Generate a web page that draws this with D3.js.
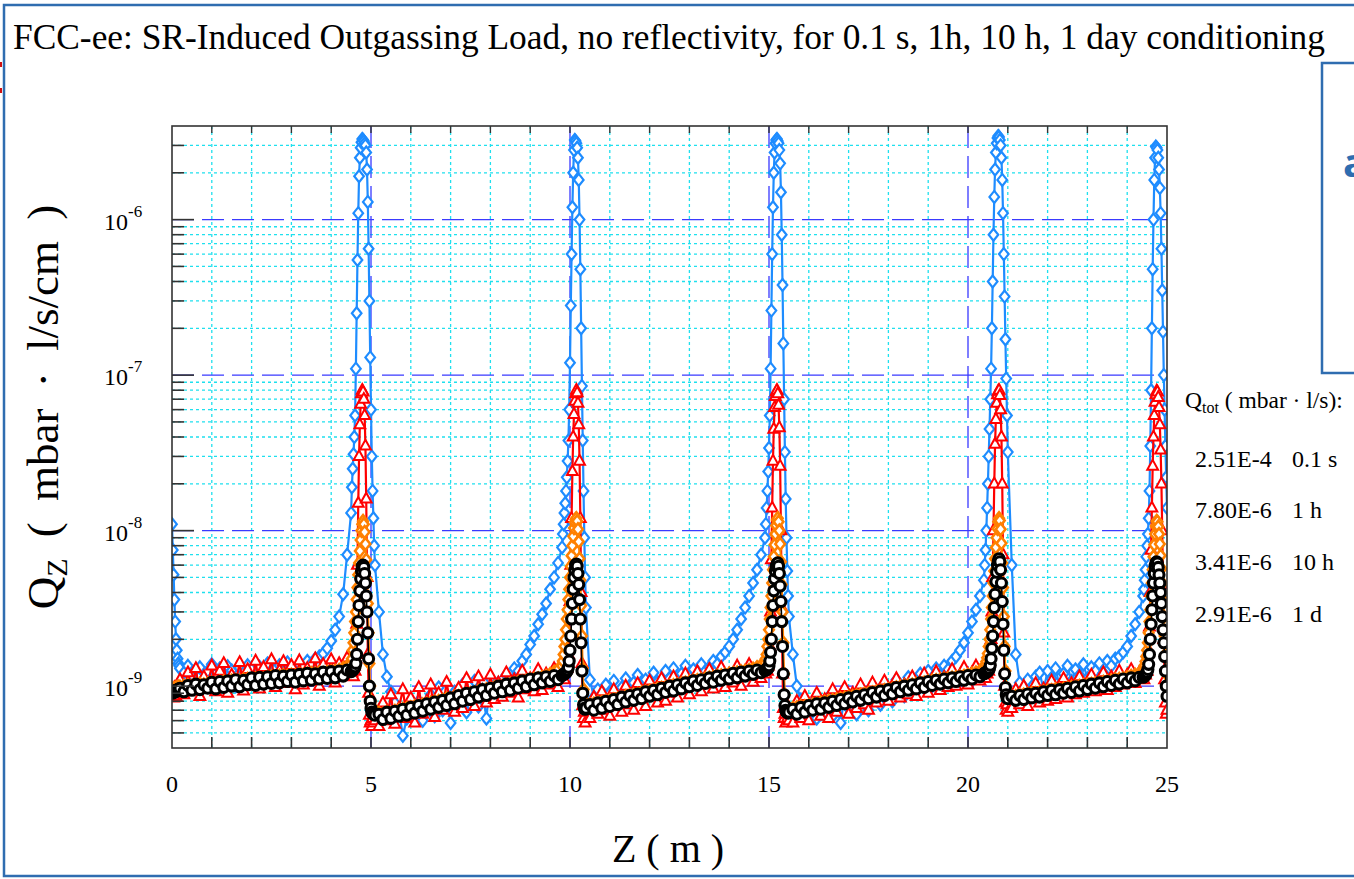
<!DOCTYPE html>
<html lang="en">
<head>
<meta charset="UTF-8">
<title>FCC-ee: SR-Induced Outgassing Load</title>
<script src="https://d3js.org/d3.v7.min.js"></script>
<style>
  body { margin: 0; background: #fff; }
  svg text { font-family: "Liberation Serif", "Times New Roman", serif; fill: #000; }
</style>
</head>
<body>
<div id="chart"></div>
<script>
// sampling positions along Z (m): [start, stop, step] - finer mesh around each SR fan
const zSegments = [
  [0.00, 0.18, 0.02], [0.2, 4.5, 0.1], [4.52, 5.10, 0.02],
  [5.2, 9.8, 0.1], [9.82, 10.40, 0.02], [10.5, 14.9, 0.1],
  [14.92, 15.50, 0.02], [15.6, 20.4, 0.1], [20.42, 21.00, 0.02],
  [21.1, 24.4, 0.1], [24.42, 25.00, 0.02]
];

// Q_Z, in units of 1e-9 mbar·l/s/cm, one sub-array per segment
const q01s = [
  [11.0, 7.5, 5.2, 3.6, 2.6, 2.0, 1.7, 1.5, 1.4, 1.35],
  [1.30, 1.22, 1.35, 1.18, 1.28, 1.32, 1.05, 1.25, 1.38, 1.20, 1.30, 1.15, 1.34, 1.26, 1.00, 1.31, 1.22, 1.36, 1.28, 1.12,
   1.33, 1.25, 1.40, 1.18, 1.30, 1.36, 1.24, 1.42, 1.30, 1.26, 1.38, 1.32, 1.45, 1.40, 1.50, 1.55, 1.62, 1.75, 1.95, 2.3,
   2.8, 3.9, 7.0, 13.0],
  [19, 25, 31, 40, 55, 110, 250, 550, 1100, 1900, 2500, 2900, 3150, 3300, 3250, 3200, 3100, 3000, 2700, 2100,
   1300, 650, 300, 130, 60, 30, 18, 12, 8, 6],
  [3.0, 1.6, 1.15, 0.92, 0.78, 0.70, 0.48, 0.62, 0.74, 0.66, 0.80, 0.60, 0.72, 0.88, 0.64, 0.98, 0.70, 0.84, 0.58, 0.92,
   0.76, 1.02, 0.68, 0.90, 1.08, 0.74, 0.95, 0.62, 1.12, 0.86, 1.05, 0.92, 1.18, 1.02, 1.30, 1.25, 1.45, 1.60, 1.85, 2.1,
   2.5, 2.9, 3.4, 4.2, 5.0, 6.2, 7.8],
  [9.5, 11, 13, 15, 18, 22, 28, 38, 60, 120, 280, 600, 1200, 2000, 2800, 3250, 3200, 3100, 2900, 2500,
   1800, 1000, 480, 200, 85, 38, 18, 9, 5, 3.2],
  [1.10, 0.85, 0.95, 0.80, 1.02, 0.90, 1.08, 0.86, 0.98, 1.12, 0.92, 1.05, 1.18, 0.95, 1.10, 1.00, 1.22, 1.06, 0.96, 1.25,
   1.12, 1.30, 1.02, 1.20, 1.35, 1.15, 1.28, 1.10, 1.38, 1.25, 1.32, 1.45, 1.38, 1.55, 1.65, 1.80, 2.0, 2.3, 2.7, 3.2,
   3.8, 4.6, 5.6, 7.0, 9.0],
  [11, 14, 18, 24, 34, 55, 110, 260, 600, 1200, 2000, 2700, 3100, 3250, 3300, 3200, 3100, 2800, 2300, 1500,
   800, 380, 160, 70, 32, 16, 9, 5.5, 3.8, 2.8],
  [1.6, 1.0, 0.82, 0.72, 0.66, 0.78, 0.62, 0.74, 0.68, 0.85, 0.64, 0.76, 0.58, 0.88, 0.72, 0.82, 0.66, 0.94, 0.78, 0.70,
   0.98, 0.84, 0.76, 1.04, 0.90, 0.80, 1.10, 0.96, 0.86, 1.14, 1.02, 0.92, 1.20, 1.08, 1.25, 1.00, 1.30, 1.18, 1.35, 1.28,
   1.45, 1.55, 1.70, 1.90, 2.2, 2.6, 3.1, 3.8, 4.8],
  [6, 7.5, 10, 14, 20, 30, 45, 70, 110, 200, 400, 800, 1400, 2100, 2700, 3100, 3350, 3450, 3400, 3250,
   3000, 2500, 1800, 1100, 600, 320, 170, 95, 55, 32],
  [6.0, 1.6, 1.05, 0.92, 1.10, 0.88, 1.15, 1.22, 0.95, 1.25, 1.12, 1.30, 1.00, 1.20, 1.35, 1.08, 1.28, 1.18, 1.38, 1.12,
   1.32, 1.25, 1.40, 1.22, 1.45, 1.35, 1.50, 1.55, 1.65, 1.80, 2.1, 2.5, 3.0, 3.8],
  [4.2, 4.8, 5.6, 6.8, 8.0, 9.5, 12, 18, 35, 80, 200, 480, 1000, 1800, 2500, 2950, 2900, 2800, 2500, 2100,
   1600, 1100, 650, 350, 190, 100, 60, 35, 22, 14]
];

const q1h = [
  [0.88, 0.95, 0.84, 0.98, 0.90, 0.86, 1.00, 0.92, 0.97, 0.89],
  [1.10, 0.88, 1.22, 0.95, 1.30, 0.86, 1.15, 1.02, 1.35, 0.92, 1.25, 1.40, 0.90, 1.18, 1.05, 1.42, 0.93, 1.28, 1.00, 1.45,
   0.96, 1.32, 1.12, 1.48, 0.98, 1.26, 1.44, 1.04, 1.36, 0.95, 1.46, 1.02, 1.30, 1.15, 1.50, 1.00, 1.38, 1.20, 1.48, 1.05,
   1.40, 1.18, 1.52, 1.25],
  [1.22, 1.30, 1.15, 1.35, 1.25, 1.5, 2.5, 6, 15, 30, 48, 65, 76, 80, 78, 70, 55, 35, 16, 5,
   1.6, 0.9, 0.65, 0.58, 0.60, 0.55, 0.62, 0.58, 0.66, 0.60],
  [0.55, 0.78, 0.60, 0.88, 0.57, 0.72, 0.95, 0.62, 0.84, 0.58, 0.98, 0.66, 0.80, 1.02, 0.63, 0.90, 0.70, 1.06, 0.75, 0.68,
   0.97, 0.72, 1.12, 0.80, 0.74, 1.15, 0.86, 0.78, 1.18, 0.82, 1.05, 0.85, 1.22, 0.90, 1.10, 0.84, 1.25, 0.95, 1.12, 0.92,
   1.28, 0.94, 1.20, 1.02, 1.30, 0.98, 1.25],
  [1.22, 1.35, 1.10, 1.40, 1.28, 1.30, 1.45, 1.6, 2.2, 3.5, 6, 12, 24, 40, 56, 68, 76, 80, 77, 66,
   48, 28, 12, 4, 1.4, 0.75, 0.62, 0.68, 0.58, 0.72],
  [0.62, 0.85, 0.66, 0.92, 0.70, 0.64, 0.95, 0.74, 0.68, 1.00, 0.76, 0.70, 1.04, 0.82, 0.74, 1.08, 0.86, 0.78, 1.12, 0.80,
   0.90, 1.15, 0.84, 0.98, 1.20, 0.88, 1.05, 1.24, 0.92, 1.10, 1.28, 0.96, 1.15, 1.32, 0.98, 1.20, 1.05, 1.35, 1.00, 1.25,
   1.38, 1.06, 1.30, 1.12, 1.40],
  [1.20, 1.42, 1.25, 1.35, 1.50, 1.8, 3.0, 6.5, 14, 28, 45, 62, 73, 78, 80, 76, 64, 46, 26, 10,
   3.2, 1.2, 0.72, 0.62, 0.66, 0.58, 0.70, 0.62, 0.74, 0.60],
  [0.58, 0.80, 0.62, 0.86, 0.60, 0.75, 0.90, 0.64, 0.82, 0.62, 0.95, 0.68, 0.85, 0.98, 0.66, 0.90, 0.72, 1.02, 0.76, 0.70,
   1.05, 0.78, 0.94, 1.08, 0.80, 0.98, 1.12, 0.84, 1.02, 0.88, 1.15, 0.86, 1.06, 1.20, 0.90, 1.10, 1.24, 0.94, 1.14, 0.98,
   1.28, 1.00, 1.18, 1.32, 1.02, 1.22, 1.35, 1.08, 1.25],
  [1.30, 1.12, 1.38, 1.20, 1.42, 1.25, 1.45, 1.6, 2.0, 3.0, 5, 10, 20, 36, 52, 66, 75, 79, 80, 74,
   60, 40, 20, 7, 2.2, 1.0, 0.78, 0.70, 0.76, 0.68],
  [0.72, 0.95, 0.76, 1.00, 0.74, 0.88, 1.04, 0.78, 0.96, 0.80, 1.08, 0.82, 1.00, 1.12, 0.84, 1.04, 0.88, 1.15, 0.90, 1.06,
   1.18, 0.92, 1.10, 1.22, 0.94, 1.15, 0.98, 1.25, 1.02, 1.18, 1.28, 1.04, 1.22, 1.30],
  [1.10, 1.32, 1.18, 1.38, 1.25, 1.45, 1.7, 2.4, 4.0, 7.5, 14, 26, 40, 55, 67, 75, 79, 78, 72, 62,
   48, 33, 20, 10, 4.5, 2.0, 1.1, 0.78, 0.66, 0.70]
];

const q10h = [
  [0.95, 0.94, 0.96, 0.95, 0.97, 0.96, 0.98, 0.97, 0.99, 0.98],
  [0.99, 1.00, 1.01, 1.00, 1.02, 1.03, 1.02, 1.04, 1.05, 1.04, 1.06, 1.07, 1.06, 1.08, 1.09, 1.08, 1.10, 1.11, 1.10, 1.12,
   1.13, 1.12, 1.14, 1.15, 1.14, 1.16, 1.17, 1.16, 1.18, 1.17, 1.19, 1.18, 1.20, 1.21, 1.20, 1.22, 1.21, 1.23, 1.24, 1.25,
   1.27, 1.30, 1.34, 1.40],
  [1.5, 1.7, 1.9, 2.2, 2.6, 3.0, 3.6, 4.3, 5.2, 6.2, 7.4, 8.7, 10.0, 11.0, 11.5, 11.0, 9.8, 8.2, 6.5, 4.8,
   3.4, 2.2, 1.4, 1.0, 0.80, 0.74, 0.71, 0.70, 0.69, 0.69],
  [0.67, 0.66, 0.68, 0.67, 0.69, 0.70, 0.71, 0.72, 0.73, 0.74, 0.74, 0.76, 0.77, 0.78, 0.79, 0.80, 0.81, 0.83, 0.83, 0.85,
   0.86, 0.87, 0.89, 0.90, 0.91, 0.93, 0.94, 0.95, 0.96, 0.98, 0.99, 1.00, 1.02, 1.03, 1.04, 1.06, 1.07, 1.08, 1.10, 1.11,
   1.12, 1.14, 1.16, 1.19, 1.23, 1.28, 1.35],
  [1.45, 1.6, 1.8, 2.0, 2.3, 2.7, 3.1, 3.6, 4.2, 5.0, 5.9, 6.9, 8.0, 9.2, 10.4, 11.3, 11.8, 12.0, 11.5, 10.2,
   8.5, 6.6, 4.8, 3.3, 2.1, 1.3, 0.95, 0.80, 0.76, 0.75],
  [0.76, 0.77, 0.78, 0.79, 0.80, 0.81, 0.82, 0.83, 0.84, 0.86, 0.87, 0.88, 0.89, 0.91, 0.92, 0.93, 0.94, 0.96, 0.97, 0.98,
   1.00, 1.01, 1.02, 1.04, 1.05, 1.06, 1.08, 1.09, 1.10, 1.12, 1.13, 1.14, 1.16, 1.17, 1.18, 1.20, 1.21, 1.22, 1.24, 1.25,
   1.27, 1.29, 1.32, 1.36, 1.42],
  [1.5, 1.6, 1.8, 2.0, 2.3, 2.7, 3.2, 3.8, 4.6, 5.6, 6.8, 8.1, 9.5, 10.8, 11.7, 12.0, 11.4, 10.0, 8.2, 6.3,
   4.5, 3.0, 1.9, 1.2, 0.88, 0.76, 0.72, 0.71, 0.70, 0.71],
  [0.72, 0.73, 0.74, 0.74, 0.75, 0.76, 0.77, 0.78, 0.79, 0.80, 0.81, 0.82, 0.83, 0.84, 0.85, 0.86, 0.87, 0.88, 0.89, 0.90,
   0.91, 0.92, 0.93, 0.94, 0.95, 0.96, 0.98, 0.99, 1.00, 1.01, 1.02, 1.03, 1.04, 1.05, 1.07, 1.08, 1.09, 1.10, 1.11, 1.12,
   1.13, 1.14, 1.15, 1.16, 1.18, 1.20, 1.22, 1.25, 1.29],
  [1.33, 1.38, 1.44, 1.52, 1.62, 1.8, 2.0, 2.3, 2.7, 3.2, 3.8, 4.6, 5.5, 6.6, 7.8, 9.0, 10.3, 11.4, 12.0, 11.6,
   10.2, 8.3, 6.2, 4.3, 2.8, 1.8, 1.25, 0.98, 0.88, 0.85],
  [0.85, 0.86, 0.87, 0.88, 0.89, 0.90, 0.90, 0.91, 0.92, 0.93, 0.94, 0.95, 0.95, 0.96, 0.97, 0.98, 0.99, 1.00, 1.01, 1.02,
   1.03, 1.04, 1.05, 1.06, 1.07, 1.08, 1.10, 1.11, 1.12, 1.14, 1.16, 1.18, 1.21, 1.25],
  [1.30, 1.36, 1.44, 1.55, 1.7, 1.9, 2.2, 2.6, 3.1, 3.8, 4.6, 5.6, 6.8, 8.1, 9.5, 10.7, 11.5, 11.4, 10.6, 9.5,
   8.2, 6.9, 5.7, 4.6, 3.6, 2.8, 2.1, 1.6, 1.2, 0.97]
];

const q1d = [
  [0.92, 0.90, 0.91, 0.93, 0.92, 0.94, 0.93, 0.95, 0.94, 0.96],
  [0.97, 0.92, 1.01, 0.94, 1.03, 0.95, 1.02, 0.97, 1.06, 0.96, 1.07, 0.98, 1.08, 1.00, 1.10, 0.99, 1.09, 1.02, 1.13, 1.01,
   1.14, 1.03, 1.15, 1.04, 1.17, 1.05, 1.16, 1.07, 1.18, 1.06, 1.19, 1.08, 1.21, 1.09, 1.20, 1.11, 1.23, 1.12, 1.24, 1.13,
   1.25, 1.16, 1.27, 1.24],
  [1.25, 1.27, 1.28, 1.30, 1.33, 1.40, 1.6, 2.0, 2.6, 3.3, 4.1, 4.9, 5.5, 5.9, 6.0, 5.8, 5.3, 4.6, 3.8, 3.0,
   2.2, 1.5, 1.0, 0.80, 0.72, 0.68, 0.67, 0.66, 0.66, 0.65],
  [0.66, 0.61, 0.68, 0.62, 0.69, 0.64, 0.71, 0.65, 0.73, 0.67, 0.75, 0.69, 0.77, 0.71, 0.79, 0.73, 0.81, 0.75, 0.84, 0.77,
   0.87, 0.80, 0.90, 0.82, 0.92, 0.85, 0.95, 0.87, 0.97, 0.90, 1.00, 0.92, 1.03, 0.94, 1.05, 0.97, 1.08, 0.99, 1.11, 1.02,
   1.13, 1.05, 1.15, 1.07, 1.17, 1.10, 1.17],
  [1.18, 1.19, 1.20, 1.21, 1.22, 1.24, 1.27, 1.32, 1.45, 1.7, 2.1, 2.7, 3.4, 4.2, 5.0, 5.6, 6.0, 6.1, 5.9, 5.3,
   4.5, 3.6, 2.7, 1.9, 1.25, 0.90, 0.76, 0.72, 0.71, 0.72],
  [0.76, 0.70, 0.78, 0.72, 0.80, 0.74, 0.82, 0.76, 0.85, 0.79, 0.87, 0.81, 0.89, 0.83, 0.92, 0.86, 0.94, 0.88, 0.97, 0.91,
   1.00, 0.93, 1.02, 0.96, 1.05, 0.99, 1.08, 1.01, 1.10, 1.04, 1.13, 1.06, 1.16, 1.09, 1.18, 1.11, 1.21, 1.13, 1.23, 1.16,
   1.25, 1.19, 1.27, 1.22, 1.26],
  [1.27, 1.28, 1.29, 1.31, 1.35, 1.45, 1.65, 2.0, 2.6, 3.3, 4.1, 4.9, 5.5, 5.9, 6.1, 6.2, 5.9, 5.3, 4.4, 3.5,
   2.6, 1.8, 1.2, 0.88, 0.75, 0.70, 0.68, 0.68, 0.67, 0.68],
  [0.71, 0.66, 0.73, 0.68, 0.75, 0.70, 0.77, 0.71, 0.78, 0.73, 0.80, 0.75, 0.82, 0.77, 0.84, 0.79, 0.86, 0.81, 0.88, 0.83,
   0.91, 0.85, 0.93, 0.87, 0.95, 0.89, 0.98, 0.92, 1.00, 0.94, 1.02, 0.96, 1.05, 0.98, 1.07, 1.01, 1.09, 1.03, 1.11, 1.05,
   1.13, 1.07, 1.15, 1.09, 1.17, 1.11, 1.18, 1.15, 1.20],
  [1.21, 1.22, 1.23, 1.24, 1.25, 1.27, 1.30, 1.36, 1.5, 1.75, 2.1, 2.6, 3.2, 3.9, 4.7, 5.4, 6.0, 6.4, 6.6, 6.3,
   5.6, 4.6, 3.5, 2.5, 1.7, 1.2, 0.98, 0.88, 0.84, 0.83],
  [0.86, 0.81, 0.87, 0.82, 0.89, 0.84, 0.90, 0.85, 0.92, 0.87, 0.94, 0.88, 0.95, 0.90, 0.97, 0.91, 0.99, 0.93, 1.01, 0.95,
   1.03, 0.97, 1.05, 0.99, 1.07, 1.01, 1.09, 1.03, 1.11, 1.05, 1.13, 1.08, 1.14, 1.14],
  [1.15, 1.16, 1.18, 1.20, 1.23, 1.28, 1.38, 1.6, 2.0, 2.5, 3.1, 3.8, 4.6, 5.3, 5.9, 6.2, 6.3, 6.2, 5.8, 5.2,
   4.6, 4.0, 3.4, 2.8, 2.3, 1.9, 1.55, 1.25, 1.0, 0.86]
];

const conditioning = ["0.1 s", "1 h", "10 h", "1 d"];
const qTot = ["2.51E-4", "7.80E-6", "3.41E-6", "2.91E-6"];
const xLabelTicks = [0, 5, 10, 15, 20, 25];
const yDecades = [-9, -8, -7, -6];

const W = 1354, H = 879;
const plot = { left: 172, right: 1167, top: 126, bottom: 748 };
const slideBlue = "#2f6db0";

const svg = d3.select("#chart").append("svg")
  .attr("width", W).attr("height", H)
  .style("display", "block");

const x = d3.scaleLinear().domain([0, 25]).range([plot.left, plot.right]);
const y = d3.scaleLog().domain([4e-10, 4e-6]).range([plot.bottom, plot.top]);

// z mesh from the segments
const zGrid = [];
const segLen = zSegments.map(([a, b, st]) => {
  const n = Math.round((b - a) / st) + 1;
  for (let i = 0; i < n; i++) zGrid.push(+(a + i * st).toFixed(2));
  return n;
});

// slide decoration (the chart is a cut from a slide)
svg.append("path")
  .attr("d", `M${W},5 H4 V876 H${W}`)
  .attr("fill", "none").attr("stroke", slideBlue).attr("stroke-width", 2.5);
svg.append("rect")
  .attr("x", 1322).attr("y", 63).attr("width", 60).attr("height", 310)
  .attr("fill", "none").attr("stroke", slideBlue).attr("stroke-width", 2.5);
svg.append("text")
  .attr("x", 1343).attr("y", 177)
  .style("font-family", "'Open Sans', sans-serif").style("font-weight", "bold")
  .style("font-size", "40px").style("fill", slideBlue)
  .text("a");
svg.append("rect").attr("x", 0).attr("y", 62).attr("width", 2).attr("height", 5).attr("fill", "#d01010");
svg.append("rect").attr("x", 0).attr("y", 88).attr("width", 2).attr("height", 5).attr("fill", "#d01010");

// title
svg.append("text")
  .attr("x", 13).attr("y", 49)
  .style("font-size", "35px")
  .attr("textLength", 1312).attr("lengthAdjust", "spacingAndGlyphs")
  .text("FCC-ee: SR-Induced Outgassing Load, no reflectivity, for 0.1 s, 1h, 10 h, 1 day conditioning");

const g = svg.append("g");

// grid: minor (cyan dotted) and major (blue long dash)
const isDecade = v => Math.abs(Math.log10(v) - Math.round(Math.log10(v))) < 1e-6;
const yAll = y.ticks().filter(v => v > 4.01e-10 && v < 3.99e-6);
const yMinor = yAll.filter(v => !isDecade(v));
const xMinor = d3.range(1, 25).filter(v => v % 5 !== 0);
const xMajor = [5, 10, 15, 20];
const yMajor = yDecades.map(e => Math.pow(10, e));

g.selectAll(".gy").data(yMinor).join("line")
  .attr("x1", plot.left).attr("x2", plot.right)
  .attr("y1", d => y(d)).attr("y2", d => y(d))
  .attr("stroke", "#1fe0ee").attr("stroke-width", 1.3).attr("stroke-dasharray", "3,3");
g.selectAll(".gx").data(xMinor).join("line")
  .attr("x1", d => x(d)).attr("x2", d => x(d))
  .attr("y1", plot.top).attr("y2", plot.bottom)
  .attr("stroke", "#1fe0ee").attr("stroke-width", 1.3).attr("stroke-dasharray", "3,3");
g.selectAll(".gY").data(yMajor).join("line")
  .attr("x1", plot.left).attr("x2", plot.right)
  .attr("y1", d => y(d)).attr("y2", d => y(d))
  .attr("stroke", "#3a3aff").attr("stroke-width", 1.3).attr("stroke-dasharray", "22,8");
g.selectAll(".gX").data(xMajor).join("line")
  .attr("x1", d => x(d)).attr("x2", d => x(d))
  .attr("y1", plot.top).attr("y2", plot.bottom)
  .attr("stroke", "#3a3aff").attr("stroke-width", 1.3).attr("stroke-dasharray", "22,8");

// series
svg.append("clipPath").attr("id", "clip").append("rect")
  .attr("x", plot.left).attr("y", plot.top)
  .attr("width", plot.right - plot.left).attr("height", plot.bottom - plot.top);

const shapes = {
  diamond: "M0,-6L4.8,0L0,6L-4.8,0Z",
  triangle: "M0,-6.2L5.4,3.6L-5.4,3.6Z",
  circle: "M5,0A5,5 0 1,1 -5,0A5,5 0 1,1 5,0Z"
};

const series = [
  { values: q01s, color: "#1e8cff", shape: "diamond", sw: 2.2, lw: 2.2 },
  { values: q1h, color: "#ff0000", shape: "triangle", sw: 2.0, lw: 2.2 },
  { values: q10h, color: "#ff8000", shape: "diamond", sw: 2.6, lw: 2.0 },
  { values: q1d, color: "#000000", shape: "circle", sw: 3.1, lw: 1.6 }
];

const warnings = [];
const data = g.append("g").attr("clip-path", "url(#clip)");
const line = d3.line().x(d => x(d[0])).y(d => y(d[1]));

series.forEach((s, k) => {
  s.values.forEach((seg, j) => {
    if (seg.length !== segLen[j]) warnings.push(`series ${k} seg ${j}: ${seg.length} != ${segLen[j]}`);
  });
  const flat = s.values.flat();
  const pts = zGrid.map((z, i) => [z, flat[i] * 1e-9]).filter(d => isFinite(d[1]) && d[1] > 0);
  data.append("path").datum(pts)
    .attr("d", line)
    .attr("fill", "none").attr("stroke", s.color).attr("stroke-width", s.lw);
  data.append("g").selectAll("path").data(pts).join("path")
    .attr("transform", d => `translate(${x(d[0])},${y(d[1])})`)
    .attr("d", shapes[s.shape])
    .attr("fill", "#fff").attr("stroke", s.color).attr("stroke-width", s.sw);
});

// frame
svg.append("rect")
  .attr("x", plot.left).attr("y", plot.top)
  .attr("width", plot.right - plot.left).attr("height", plot.bottom - plot.top)
  .attr("fill", "none").attr("stroke", "#333").attr("stroke-width", 1.6);

// inward ticks
const tickCol = "#333";
svg.append("g").selectAll("line").data(yAll).join("line")
  .attr("x1", plot.left).attr("x2", d => plot.left + (isDecade(d) ? 22 : 12))
  .attr("y1", d => y(d)).attr("y2", d => y(d))
  .attr("stroke", tickCol).attr("stroke-width", 1.6);
svg.append("g").selectAll("line").data(d3.range(1, 25)).join("line")
  .attr("x1", d => x(d)).attr("x2", d => x(d))
  .attr("y1", plot.bottom).attr("y2", plot.bottom - 11)
  .attr("stroke", tickCol).attr("stroke-width", 1.6);
svg.append("g").selectAll("line").data(d3.range(1, 25)).join("line")
  .attr("x1", d => x(d)).attr("x2", d => x(d))
  .attr("y1", plot.top).attr("y2", plot.top + 7)
  .attr("stroke", tickCol).attr("stroke-width", 1.4);

// tick labels
svg.append("g").selectAll("text").data(xLabelTicks).join("text")
  .attr("x", d => x(d)).attr("y", 792)
  .attr("text-anchor", "middle")
  .style("font-size", "24px")
  .text(d => d);

const yl = svg.append("g").selectAll("text").data(yDecades).join("text")
  .attr("x", 104).attr("y", d => y(Math.pow(10, d)) + 10)
  .style("font-size", "24px");
yl.append("tspan").text("10");
yl.append("tspan").attr("dy", -13).style("font-size", "17px").text(d => String(d));

// axis titles
const yt = svg.append("text")
  .attr("transform", "translate(58,407) rotate(-90)")
  .attr("text-anchor", "middle")
  .style("font-size", "45px")
  .style("word-spacing", "10px");
yt.append("tspan").text("Q");
yt.append("tspan").attr("dy", 9).style("font-size", "30px").text("Z");
yt.append("tspan").attr("dy", -9).text(" ( mbar \u00b7 l/s/cm )");

svg.append("text")
  .attr("x", 668).attr("y", 862)
  .attr("text-anchor", "middle")
  .style("font-size", "40px")
  .text("Z ( m )");

// Q_tot table
const lt = svg.append("text").attr("x", 1185).attr("y", 408).style("font-size", "23.5px");
lt.append("tspan").text("Q");
lt.append("tspan").attr("dy", 5).style("font-size", "16px").text("tot");
lt.append("tspan").attr("dy", -5).text(" ( mbar \u00b7 l/s):");

const rowY = [467, 518, 570, 622];
svg.append("g").selectAll("text").data(qTot).join("text")
  .attr("x", 1195).attr("y", (d, i) => rowY[i])
  .style("font-size", "24px").text(d => d);
svg.append("g").selectAll("text").data(conditioning).join("text")
  .attr("x", 1292).attr("y", (d, i) => rowY[i])
  .style("font-size", "24px").text(d => d);

if (warnings.length) {
  svg.append("text").attr("x", 200).attr("y", 110).style("fill", "red").style("font-size", "14px")
    .text(warnings.join(" | "));
}
</script>
</body>
</html>
